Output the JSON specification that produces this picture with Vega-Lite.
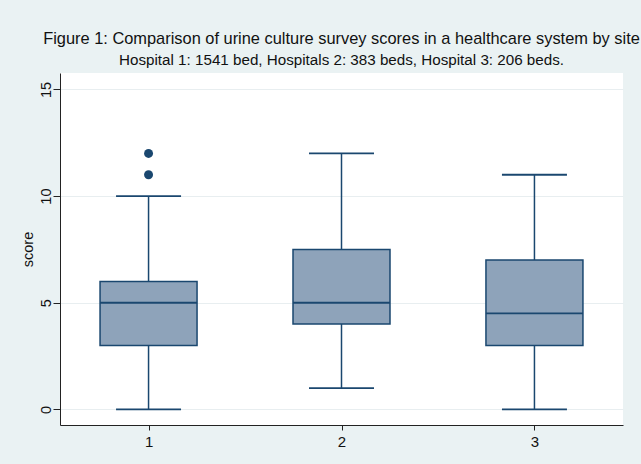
{
  "$schema": "https://vega.github.io/schema/vega-lite/v6.json",
  "width": 563,
  "height": 352,
  "autosize": "none",
  "padding": {"left": 60, "top": 73, "right": 18, "bottom": 39},
  "background": "#EAF2F3",
  "config": {
    "font": "Liberation Sans",
    "view": {"fill": "white", "stroke": null},
    "axis": {"domainColor": "#222", "tickColor": "#222", "labelColor": "#111", "titleColor": "#111", "labelFont": "Liberation Sans", "titleFont": "Liberation Sans"}
  },
  "title": {
    "text": "Figure 1: Comparison of urine culture survey scores in a healthcare system by site",
    "subtitle": "Hospital 1: 1541 bed, Hospitals 2: 383 beds, Hospital 3: 206 beds.",
    "anchor": "middle",
    "fontSize": 16.4,
    "fontWeight": "normal",
    "color": "#111",
    "subtitleFontSize": 15.2,
    "subtitleColor": "#111",
    "subtitlePadding": 5,
    "offset": 5
  },
  "datasets": {
    "boxes": [
      {"site": 1, "lower": 0, "q1": 3, "median": 5, "q3": 6, "upper": 10},
      {"site": 2, "lower": 1, "q1": 4, "median": 5, "q3": 7.5, "upper": 12},
      {"site": 3, "lower": 0, "q1": 3, "median": 4.5, "q3": 7, "upper": 11}
    ],
    "outliers": [
      {"site": 1, "score": 11},
      {"site": 1, "score": 12}
    ]
  },
  "layer": [
    {
      "data": {"name": "boxes"},
      "mark": {"type": "rule", "color": "#1A476F", "strokeWidth": 1.5},
      "encoding": {
        "x": {"field": "site", "type": "quantitative", "scale": {"domain": [0.567, 3.433], "nice": false, "zero": false},
              "axis": {"values": [1, 2, 3], "format": "d", "grid": false, "title": null, "labelFontSize": 15, "tickSize": 5, "labelPadding": 4}},
        "y": {"field": "lower", "type": "quantitative", "scale": {"domain": [-0.73, 15.77], "nice": false, "zero": false},
              "axis": {"values": [0, 5, 10, 15], "title": "score", "titleFontSize": 14.5, "titleFontWeight": "normal", "labelFontSize": 14.5, "labelAngle": -90, "labelAlign": "center", "labelBaseline": "alphabetic", "labelPadding": 3, "tickSize": 7, "titlePadding": 3, "grid": true, "gridColor": "#E8EEF0", "gridWidth": 1}},
        "y2": {"field": "upper"}
      }
    },
    {
      "data": {"name": "boxes"},
      "mark": {"type": "bar", "size": 97, "fill": "#8EA3BA", "stroke": "#1A476F", "strokeWidth": 1.5},
      "encoding": {
        "x": {"field": "site", "type": "quantitative"},
        "y": {"field": "q1", "type": "quantitative"},
        "y2": {"field": "q3"}
      }
    },
    {
      "data": {"name": "boxes"},
      "mark": {"type": "tick", "orient": "horizontal", "size": 97, "thickness": 1.8, "color": "#1A476F", "opacity": 1},
      "encoding": {
        "x": {"field": "site", "type": "quantitative"},
        "y": {"field": "median", "type": "quantitative"}
      }
    },
    {
      "data": {"name": "boxes"},
      "mark": {"type": "tick", "orient": "horizontal", "size": 65, "thickness": 1.8, "color": "#1A476F", "opacity": 1},
      "encoding": {
        "x": {"field": "site", "type": "quantitative"},
        "y": {"field": "lower", "type": "quantitative"}
      }
    },
    {
      "data": {"name": "boxes"},
      "mark": {"type": "tick", "orient": "horizontal", "size": 65, "thickness": 1.8, "color": "#1A476F", "opacity": 1},
      "encoding": {
        "x": {"field": "site", "type": "quantitative"},
        "y": {"field": "upper", "type": "quantitative"}
      }
    },
    {
      "data": {"name": "outliers"},
      "mark": {"type": "point", "filled": true, "size": 80, "color": "#1A476F", "opacity": 1},
      "encoding": {
        "x": {"field": "site", "type": "quantitative"},
        "y": {"field": "score", "type": "quantitative"}
      }
    }
  ]
}
